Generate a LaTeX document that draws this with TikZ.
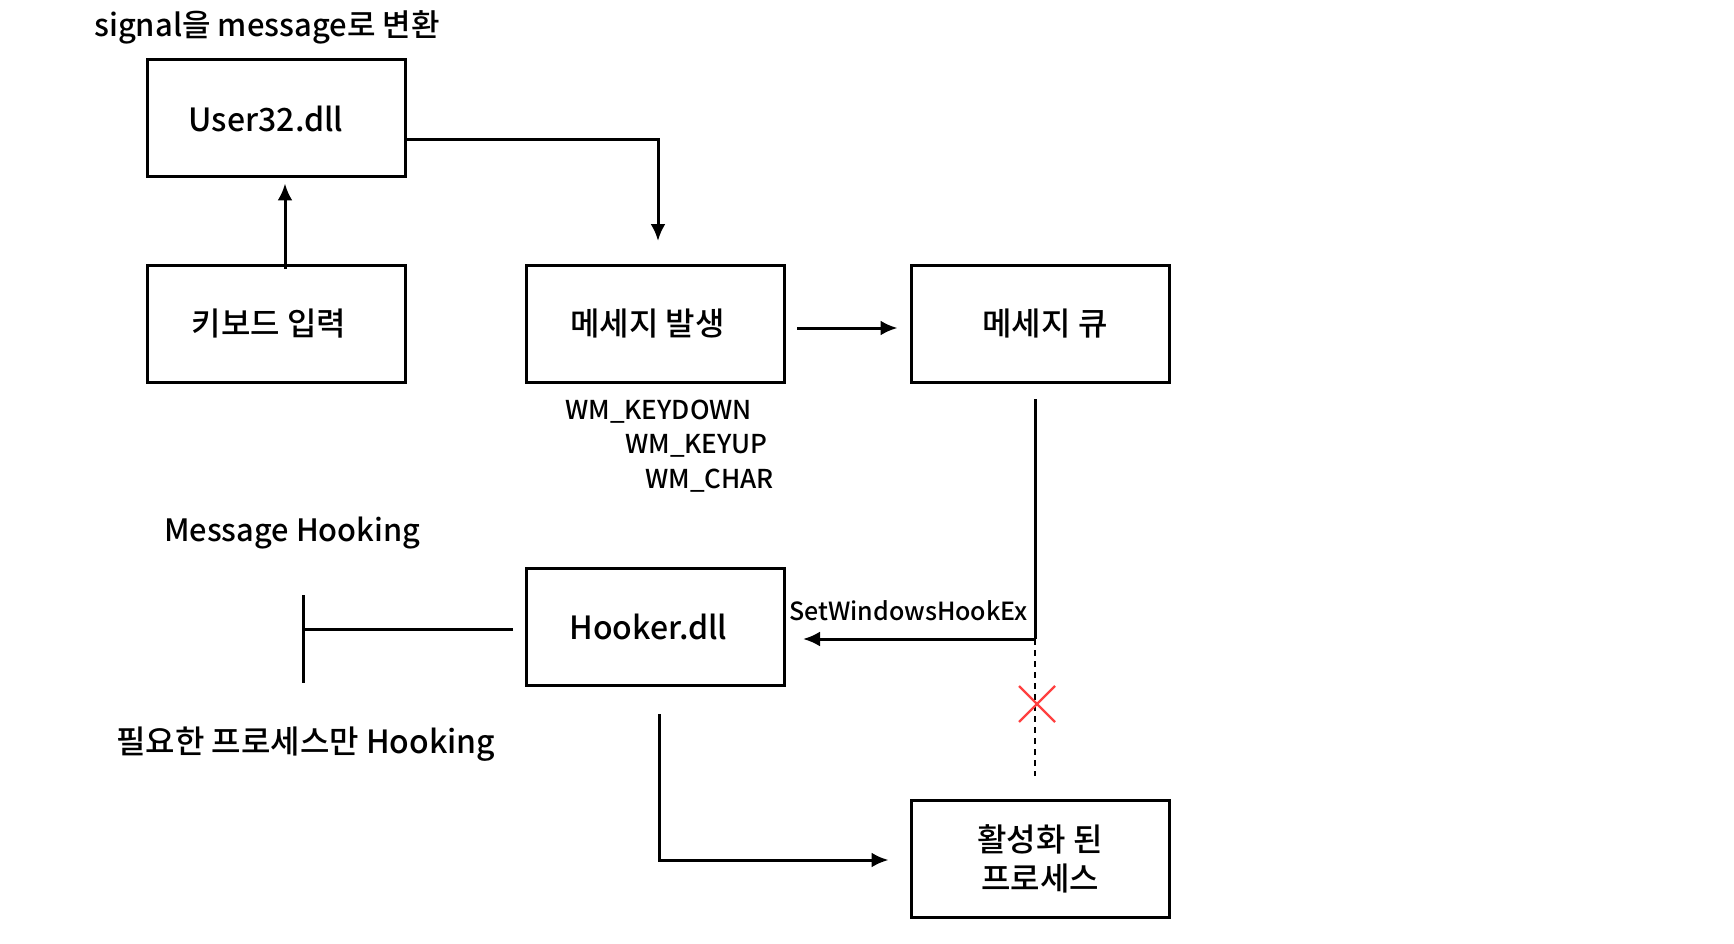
\documentclass[tikz,border=0pt]{standalone}
\usepackage{fontspec}
\setmainfont{Noto Sans CJK KR Medium}
\usetikzlibrary{arrows.meta}

\begin{document}
\begin{tikzpicture}[x=1pt, y=-1pt,
    box/.style={draw, line width=3pt, minimum width=258pt, minimum height=117pt,
      font=\fontsize{32}{39}\selectfont, align=center},
    arr/.style={line width=3pt, -{Latex[length=17pt, width=15pt]}},
    wire/.style={line width=3pt},
    lbl/.style={font=\fontsize{26}{30}\selectfont, inner sep=0pt}]
    \useasboundingbox (0,0) rectangle (1734,944);
    \node[box] (user) at (276,118.5) {User32.dll\hspace*{20pt}};
    \node[box] (kbd) at (276,324) {키보드 입력\hspace*{14pt}};
    \node[box] (gen) at (655.5,324) {메세지 발생\hspace*{16pt}};
    \node[box] (queue) at (1040,324) {\hspace*{10pt}메세지 큐};
    \node[box] (hooker) at (655.5,627) {Hooker.dll\hspace*{14pt}};
    \node[box] (proc) at (1040,858.5) {활성화 된\\프로세스};
    % labels
    \node[lbl, font=\fontsize{31}{36}\selectfont, anchor=west] (title) at (94,27) {signal을 message로 변환};
    \node[lbl, anchor=west] (keydown) at (565,412) {WM\_KEYDOWN};
    \node[lbl, anchor=west] (keyup) at (625,446) {WM\_KEYUP};
    \node[lbl, anchor=west] (char) at (645,481) {WM\_CHAR};
    \node[lbl, font=\fontsize{25}{30}\selectfont, anchor=west] (hookex) at (789,611) {SetWindowsHookEx};
    \node[lbl, font=\fontsize{30.8}{38}\selectfont, anchor=west] (msghook) at (164,533) {Message Hooking};
    \node[lbl, font=\fontsize{32}{38}\selectfont, anchor=west] (only) at (116,744) {필요한 프로세스만 Hooking};
    % connectors
    \draw[arr] ([xshift=9pt, yshift=-5pt]kbd.north) -- ([xshift=9pt, yshift=-5pt]user.south);
    \draw[arr] ([yshift=-21.5pt]user.east) -| ([xshift=2.5pt, yshift=23pt]gen.north);
    \draw[arr] ([xshift=11pt, yshift=-4pt]gen.east) -- ([xshift=-12pt, yshift=-4pt]queue.west);
    \coordinate (split) at (1035,639);
    \draw[wire] ([xshift=-5pt, yshift=-15pt]queue.south) -- (split);
    \draw[arr] (split) -- ([xshift=17pt, yshift=-12pt]hooker.east);
    \draw[wire, dash pattern=on 6pt off 5pt, line width=2.4pt] (split) -- ([xshift=-5pt, yshift=23pt]proc.north);
    \draw[red!75, line width=2.4pt] (1019,686) -- (1055,722) (1019,722) -- (1055,686);
    \draw[arr] ([xshift=3.5pt, yshift=-27pt]hooker.south) |- ([xshift=-21pt, yshift=-1.5pt]proc.west);
    \coordinate (bar) at (303,629);
    \draw[wire] ([xshift=-12pt, yshift=-2pt]hooker.west) -- (bar);
    \draw[wire] ([yshift=34pt]bar) -- ([yshift=-54pt]bar);
\end{tikzpicture}
\end{document}
